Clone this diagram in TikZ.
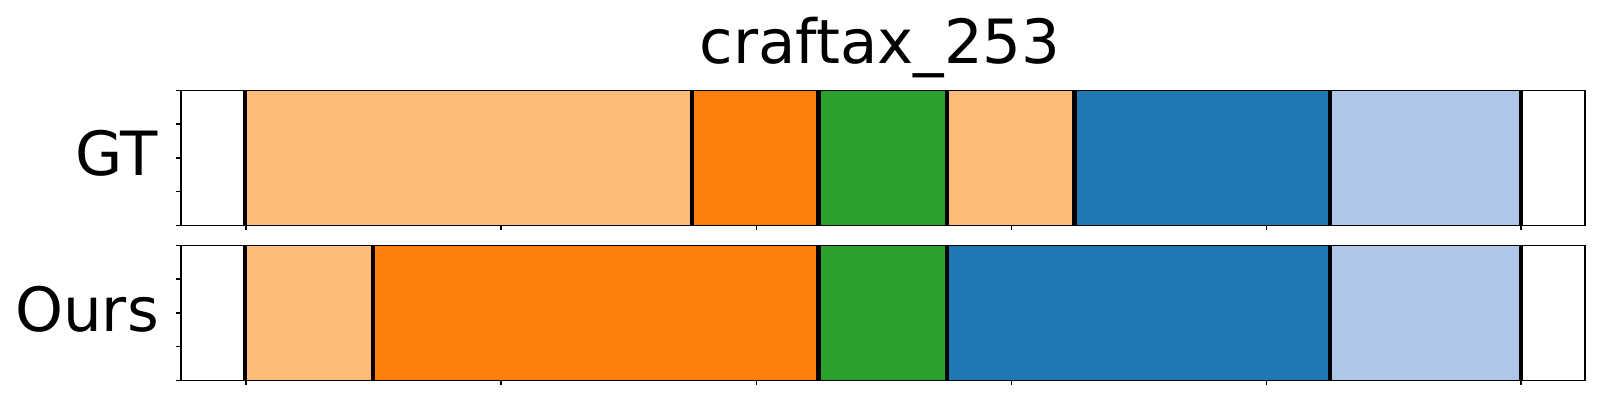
\documentclass[tikz,border=0pt]{standalone}
\usepackage{fontspec}
\setmainfont{DejaVu Sans}
\usepackage{tikz}

\definecolor{tablight}{HTML}{FFBB78}
\definecolor{taborange}{HTML}{FF7F0E}
\definecolor{tabgreen}{HTML}{2CA02C}
\definecolor{tabblue}{HTML}{1F77B4}
\definecolor{tabsky}{HTML}{AEC7E8}

\begin{document}
\begin{tikzpicture}[x=1pt,y=-1pt,
    axframe/.style={black,line width=1.6pt},
    cutline/.style={black,line width=4.5pt},
    lbl/.style={font=\fontsize{61}{70}\selectfont,inner sep=0pt}]
    \useasboundingbox (0,0) rectangle (1600,400);

    \node[lbl,anchor=base] (title) at (880,63) {craftax\_253};
    \node[lbl,anchor=base east] (gt) at (158,175) {GT};
    \node[lbl,anchor=base east] (ours) at (159,331.7) {Ours};

    % GT segments
    \foreach \a/\b/\c in {245/692/tablight,692/818.7/taborange,818.7/947/tabgreen,
        947/1074.7/tablight,1074.7/1330/tabblue,1330/1521/tabsky}
        \fill[\c] (\a,90.3) rectangle (\b,225.3);
    \foreach \x in {245,692,818.7,947,1074.7,1330,1521}
        \draw[cutline] (\x,90.3) -- (\x,225.3);

    % Ours segments
    \foreach \a/\b/\c in {245/373/tablight,373/818.7/taborange,818.7/947/tabgreen,
        947/1330/tabblue,1330/1521/tabsky}
        \fill[\c] (\a,245.3) rectangle (\b,380.3);
    \foreach \x in {245,373,818.7,947,1330,1521}
        \draw[cutline] (\x,245.3) -- (\x,380.3);

    % frames and ticks
    \foreach \y in {90.3,245.3} {
        \draw[axframe] (181,\y) rectangle (1585,\y+135);
        \foreach \t in {0,...,4}
            \draw[axframe] (181,\y+33.75*\t) -- ++(-5,0);
        \foreach \x in {245.7,501,756.3,1011.3,1266.4,1521}
            \draw[axframe] (\x,\y+135) -- ++(0,5);
    }
\end{tikzpicture}
\end{document}
